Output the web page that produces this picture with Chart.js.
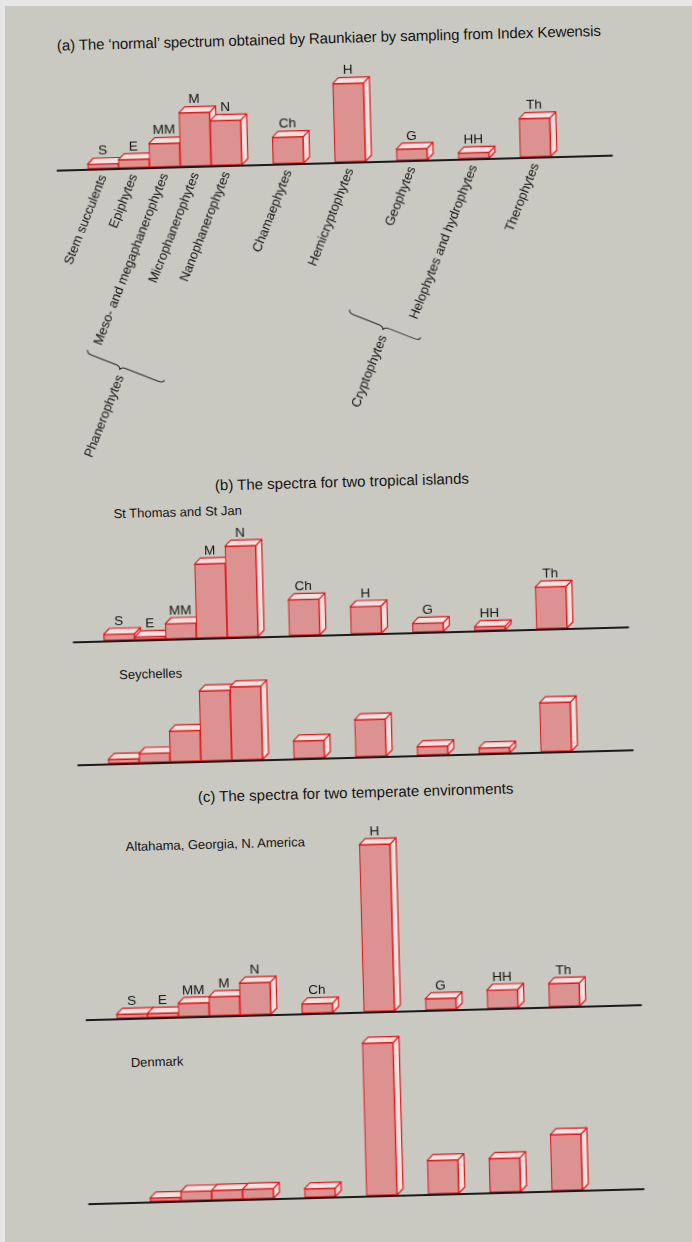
<!DOCTYPE html>
<html>
<head>
<meta charset="utf-8">
<script src="https://cdn.jsdelivr.net/npm/chart.js@4.4.0/dist/chart.umd.min.js"></script>
<style>
  html, body { margin: 0; padding: 0; }
  body { width: 692px; height: 1242px; background: #e7e7e7; position: relative; overflow: hidden;
         font-family: "Liberation Sans", Arial, sans-serif; color: #141414; }
  #sheet { position: absolute; left: 5px; top: 6px; right: 0; bottom: 0; background: #c9c8c1; }
  /* the scan is tilted a little, so the whole figure is drawn level and turned */
  #page { position: absolute; left: 0; top: 0; width: 692px; height: 1242px;
          transform-origin: 346px 621px; transform: rotate(-1.55deg); }
  .txt { position: absolute; white-space: nowrap; line-height: 16px; }
  .title { font-size: 15px; }
  .sub { font-size: 13px; }
  canvas { position: absolute; left: 0; }
</style>
</head>
<body>
<div id="sheet"></div>
<div id="page">
  <div class="txt title" style="left:72.6px; top:29.5px; letter-spacing:-0.1px">(a) The ‘normal’ spectrum obtained by Raunkiaer by sampling from Index Kewensis</div>
  <div class="txt title" style="left:218.7px; top:473.5px">(b) The spectra for two tropical islands</div>
  <div class="txt sub" style="left:116.5px; top:499.7px">St Thomas and St Jan</div>
  <div class="txt sub" style="left:117.8px; top:660.9px">Seychelles</div>
  <div class="txt title" style="left:193.1px; top:784.7px">(c) The spectra for two temperate environments</div>
  <div class="txt sub" style="left:119.7px; top:832.8px">Altahama, Georgia, N. America</div>
  <div class="txt sub" style="left:118.9px; top:1048.5px">Denmark</div>
  <canvas id="a"></canvas>
  <canvas id="b1"></canvas>
  <canvas id="b2"></canvas>
  <canvas id="c1"></canvas>
  <canvas id="c2"></canvas>
</div>
<script>
// life-form classes (Raunkiaer), % of species
const categories = ['S', 'E', 'MM', 'M', 'N', 'Ch', 'H', 'G', 'HH', 'Th'];
const lifeForms = ['Stem succulents', 'Epiphytes', 'Meso- and megaphanerophytes', 'Microphanerophytes',
  'Nanophanerophytes', 'Chamaephytes', 'Hemicryptophytes', 'Geophytes', 'Helophytes and hydrophytes', 'Therophytes'];

const normalSpectrum = [1.5, 2.7, 7.8, 17.8, 14.9, 8.8, 26.1, 3.7, 1.9, 12.8];
const stThomas       = [2.0, 0.9, 5.0, 24.6, 30.3, 11.9, 9.0, 2.9, 1.2, 13.9];
const seychelles     = [1.3, 3.0, 10.2, 23.3, 24.4, 5.8, 12.3, 2.8, 1.8, 16.3];
const altahama       = [1.3, 1.3, 4.4, 6.3, 10.6, 3.1, 55.6, 3.7, 6.0, 7.6];
const denmark        = [0, 1.1, 3.0, 3.1, 3.2, 2.8, 50.8, 11.1, 11.2, 18.6];

Chart.defaults.font.family = '"Liberation Sans", Arial, sans-serif';
Chart.defaults.color = '#151515';

const SLOT = 30.9;      // px per slot
const PX_PER_PCT = 3;
const DX = 6, DY = 6;   // depth of the boxes
const RED = '#e2171d', FRONT = '#dc9290', FACE = '#f0e2df';

// one empty slot before S, a gap before each class after N, two empty slots at the end
function toSlots(arr, blank) {
  const out = [blank];
  arr.forEach((v, i) => {
    if (i >= 5) out.push(blank);
    out.push(v);
  });
  out.push(blank, blank);
  return out;
}

const boxes = {
  id: 'boxes',
  beforeDatasetsDraw(chart) {
    const ctx = chart.ctx;
    const data = chart.data.datasets[0].data;
    ctx.save();
    ctx.lineWidth = 1.2;
    ctx.strokeStyle = RED;
    ctx.fillStyle = FACE;
    ctx.lineJoin = 'round';
    chart.getDatasetMeta(0).data.forEach((bar, i) => {
      if (!data[i]) return;
      const p = bar.getProps(['x', 'y', 'base', 'width'], true);
      const l = p.x - p.width / 2, r = p.x + p.width / 2, t = p.y, b = p.base;
      ctx.beginPath();
      ctx.moveTo(r, t); ctx.lineTo(r + DX, t - DY); ctx.lineTo(r + DX, b - DY); ctx.lineTo(r, b);
      ctx.closePath(); ctx.fill(); ctx.stroke();
      ctx.beginPath();
      ctx.moveTo(l, t); ctx.lineTo(r, t); ctx.lineTo(r + DX, t - DY); ctx.lineTo(l + DX, t - DY);
      ctx.closePath(); ctx.fill(); ctx.stroke();
    });
    ctx.restore();
  },
  afterDatasetsDraw(chart, args, opts) {
    const ctx = chart.ctx;
    const area = chart.chartArea;
    const y0 = chart.scales.y.getPixelForValue(0);
    ctx.save();
    ctx.strokeStyle = '#1a1a1a';
    ctx.lineWidth = 2.2;
    ctx.beginPath();
    ctx.moveTo(area.left, y0 + 1);
    ctx.lineTo(area.right, y0 + 1);
    ctx.stroke();
    if (opts.letters) {
      ctx.fillStyle = '#141414';
      ctx.font = '13.5px "Liberation Sans", Arial, sans-serif';
      ctx.textAlign = 'center';
      ctx.textBaseline = 'middle';
      chart.getDatasetMeta(0).data.forEach((bar, i) => {
        const lab = chart.data.labels[i];
        if (!lab) return;
        const p = bar.getProps(['x', 'y'], true);
        ctx.fillText(lab, p.x, p.y - 13);
      });
    }
    ctx.restore();
  }
};

// curly braces grouping the phanerophytes and cryptophytes
function brace(ctx, x, y, y1, y2, text) {
  const h = 7, r = 6;
  ctx.save();
  ctx.translate(x, y);
  ctx.rotate(-67 * Math.PI / 180);
  ctx.strokeStyle = '#2a2a2a';
  ctx.lineWidth = 1;
  ctx.beginPath();
  ctx.moveTo(h, y1);
  ctx.quadraticCurveTo(h / 2, y1, h / 2, y1 + r);
  ctx.lineTo(h / 2, -r);
  ctx.quadraticCurveTo(h / 2, 0, 0, 0);
  ctx.quadraticCurveTo(h / 2, 0, h / 2, r);
  ctx.lineTo(h / 2, y2 - r);
  ctx.quadraticCurveTo(h / 2, y2, h, y2);
  ctx.stroke();
  ctx.fillStyle = '#151515';
  ctx.font = '13px "Liberation Sans", Arial, sans-serif';
  ctx.textAlign = 'right';
  ctx.textBaseline = 'middle';
  ctx.fillText(text, -5, 3);
  ctx.restore();
}

const groups = {
  id: 'groups',
  afterDraw(chart) {
    const a = chart.chartArea;
    brace(chart.ctx, a.left + 57.4, a.bottom + 201.9, -37, 45.4, 'Phanerophytes');
    brace(chart.ctx, a.left + 321.4, a.bottom + 169, -38, 38.3, 'Cryptophytes');
  }
};

const panels = [
  { id: 'a',  values: normalSpectrum, top: 0,    height: 470, left: 69.05, baseline: 162,  yMax: 30, letters: true, axis: true },
  { id: 'b1', values: stThomas,       top: 500,  height: 150, left: 72.45, baseline: 634,  yMax: 35, letters: true },
  { id: 'b2', values: seychelles,     top: 655,  height: 115, left: 73.65, baseline: 757,  yMax: 30 },
  { id: 'c1', values: altahama,       top: 810,  height: 215, left: 75.05, baseline: 1012, yMax: 60, letters: true },
  { id: 'c2', values: denmark,        top: 1030, height: 182, left: 72.65, baseline: 1196, yMax: 55 }
];

const slotLabels = toSlots(categories, '');
const slotNames = toSlots(lifeForms, '');

panels.forEach(p => {
  const cv = document.getElementById(p.id);
  cv.width = 692;
  cv.height = p.height;
  cv.style.top = p.top + 'px';
  const width = slotLabels.length * SLOT;
  const padTop = p.baseline - p.yMax * PX_PER_PCT - p.top;
  const below = p.top + p.height - p.baseline;
  const plugins = [boxes];
  if (p.axis) plugins.push(groups);
  const xScale = {
    display: !!p.axis,
    grid: { display: false, drawTicks: false },
    border: { display: false },
    ticks: {
      autoSkip: false,
      minRotation: 67,
      maxRotation: 67,
      padding: 4,
      font: { size: 13 },
      color: '#151515',
      callback: (v, i) => slotNames[i]
    }
  };
  if (p.axis) xScale.afterFit = s => { s.height = below; };
  new Chart(cv, {
    type: 'bar',
    data: {
      labels: slotLabels,
      datasets: [{
        data: toSlots(p.values, null),
        backgroundColor: FRONT,
        borderColor: RED,
        borderWidth: 1.2,
        borderSkipped: false,
        categoryPercentage: 1,
        barPercentage: 1
      }]
    },
    options: {
      responsive: false,
      animation: false,
      devicePixelRatio: 1,
      layout: {
        padding: { left: p.left, right: 692 - p.left - width, top: padTop, bottom: p.axis ? 0 : below }
      },
      plugins: {
        legend: { display: false },
        tooltip: { enabled: false },
        boxes: { letters: !!p.letters }
      },
      scales: {
        x: xScale,
        y: { display: false, min: 0, max: p.yMax }
      }
    },
    plugins: plugins
  });
});
</script>
</body>
</html>
